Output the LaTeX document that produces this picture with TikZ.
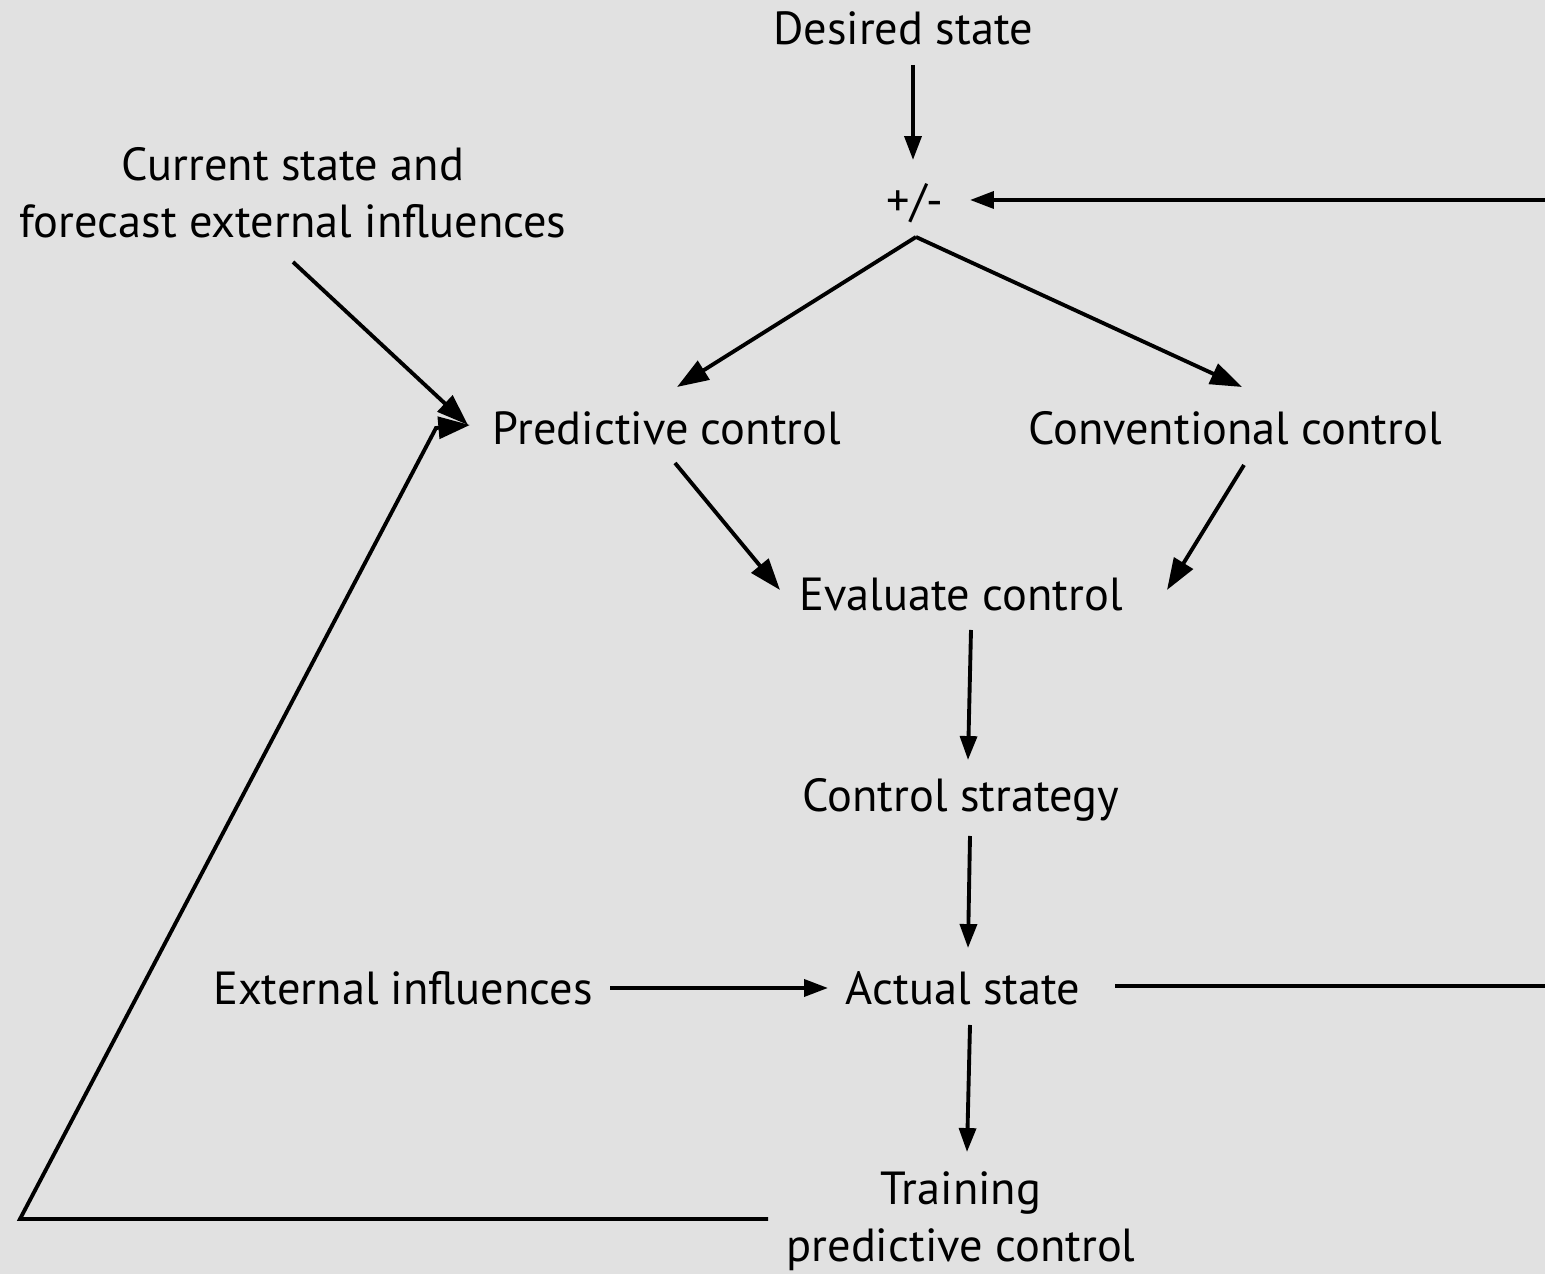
\documentclass[tikz,border=0pt]{standalone}
\usepackage{fontspec}
\setmainfont{PT Sans}
\usetikzlibrary{calc,arrows.meta}
\definecolor{bggray}{HTML}{E1E1E1}
\begin{document}
\begin{tikzpicture}[x=0.01cm,y=-0.01cm,
  lbl/.style={inner sep=0pt, font=\fontsize{13.2}{16.2}\selectfont, align=center},
  conn/.style={line width=1.1pt, draw=black},
  arr/.style={conn, -{Triangle[length=6.8pt,width=4.8pt]}},
  darr/.style={conn, -{Triangle[length=9pt,width=6.2pt]}}]
% background and page size
\fill[bggray] (0,0) rectangle (1545,1274);
\useasboundingbox (0,0) rectangle (1545,1274);

% labels
\node[lbl] (des)   at (903,28)   {Desired state};
\node[lbl] (pm)    at (915,203)  {+/-};
\node[lbl] (cur)   at (293,193)  {Current state and\\forecast external influences};
\node[lbl] (pred)  at (667,428)  {Predictive control};
\node[lbl] (conv)  at (1235,428) {Conventional control};
\node[lbl] (eval)  at (961,595)  {Evaluate control};
\node[lbl] (strat) at (961,800)  {Control strategy};
\node[lbl] (ext)   at (403,988)  {External influences};
\node[lbl] (act)   at (963,988)  {Actual state};
\node[lbl] (train) at (961,1221) {Training\\predictive control};

% corner points of the two feedback loops (right one runs along the edge)
\coordinate (fbBottom) at (1547,986);
\coordinate (fbTop)    at (1547,200);
\coordinate (trLeft)   at (20,1219);
\coordinate (trTop)    at (436,428);

% main flow
\draw[arr] ($(des)+(10,37)$) -- ($(pm)+(-2,-43)$);
\coordinate (split) at ($(pm)+(1,34)$);
\draw[darr] (split) -- ($(pred)+(10,-41)$);
\draw[darr] (split) -- ($(conv)+(7,-41)$);
\draw[darr] ($(cur)+(0,69)$) -- ($(pred)+(-199,-3)$);
\draw[darr] ($(pred)+(8,35)$) -- ($(eval)+(-181,-5)$);
\draw[darr] ($(conv)+(9,37)$) -- ($(eval)+(206,-5)$);
\draw[arr] ($(eval)+(10,35)$) -- ($(strat)+(7,-40)$);
\draw[arr] ($(strat)+(9,36)$) -- ($(act)+(5,-40)$);
\draw[arr] ($(ext)+(207,0)$) -- ($(act)+(-135,0)$);
\draw[arr] ($(act)+(7,37)$) -- ($(train)+(6,-69)$);

% feedback of the actual state to the comparison
\draw[arr] ($(act)+(152,-2)$) -- (fbBottom) -- (fbTop) -- ($(pm)+(55,-3)$);
% training loop back to predictive control
\draw[darr] ($(train)+(-193,-2)$) -- (trLeft) -- (trTop) -- ($(pred)+(-197,-3)$);
\end{tikzpicture}
\end{document}
